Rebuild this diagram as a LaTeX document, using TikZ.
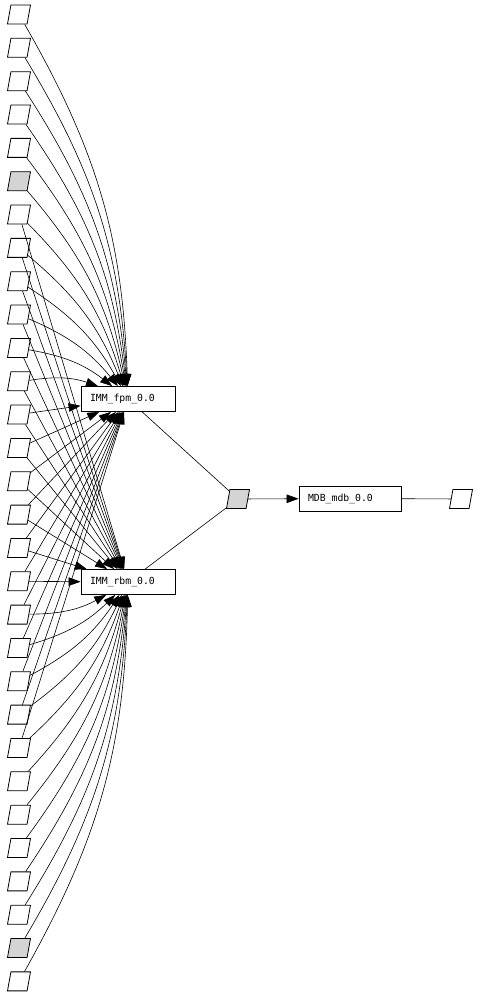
\documentclass[tikz,border=0pt]{standalone}
\usepackage{fontspec}
\newfontfamily\monofont{DejaVu Sans Mono}
\usetikzlibrary{shapes.geometric,arrows.meta}

\begin{document}
\begin{tikzpicture}[x=1pt,y=-1pt,
    port/.style={trapezium,trapezium left angle=78,trapezium right angle=102,
        trapezium stretches=true,draw,line width=0.8pt,inner sep=2pt,
        minimum width=23pt,minimum height=19pt},
    module/.style={draw,line width=0.8pt,minimum height=25pt,text width=76pt,
        inner xsep=9pt,align=left,font=\monofont\fontsize{9.8}{11}\selectfont},
    wire/.style={line width=0.6pt},
    feed/.style={wire,-{Triangle[length=12pt,width=8.5pt]}}]
    \useasboundingbox (0,0) rectangle (480,996);
    % input ports, top to bottom
    \foreach \k in {0,...,29}{
        \ifnum\k=5 \def\pfill{black!17}\else
        \ifnum\k=28 \def\pfill{black!17}\else\def\pfill{white}\fi\fi
        \node[port,fill=\pfill] (in\k) at (19,14.5+33.34*\k) {};
    }
    \node[module] (fpm) at (128,399) {IMM\_fpm\_0.0};
    \node[module] (rbm) at (128,582) {IMM\_rbm\_0.0};
    \node[port,fill=black!17] (bus) at (238,499) {};
    \node[module,text width=84pt] (mdb) at (350,498.5) {MDB\_mdb\_0.0};
    \node[port] (out) at (461,499) {};
    % inputs into the two IMM blocks
    \foreach \k in {0,...,22}{
        \ifnum\k<12 \def\bnd{14}\else\def\bnd{0}\fi
        \draw[feed] (in\k) to[bend left=\bnd] (fpm);
    }
    \foreach \k in {6,...,29}{
        \ifnum\k>17 \def\bnd{-14}\else\def\bnd{0}\fi
        \draw[feed] (in\k) to[bend left=\bnd] (rbm);
    }
    % outputs
    \draw[wire] (fpm) -- (bus);
    \draw[wire] (rbm) -- (bus);
    \draw[feed] (bus) -- (mdb);
    \draw[wire] (mdb) -- (out);
\end{tikzpicture}
\end{document}
